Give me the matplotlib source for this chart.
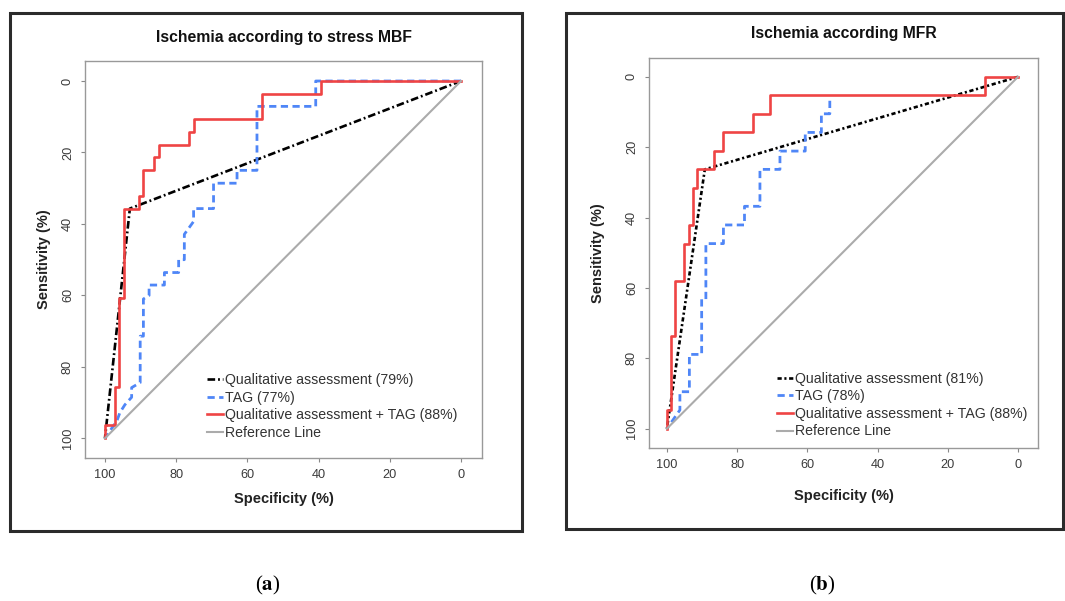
import numpy as np
import matplotlib
matplotlib.use("Agg")
import matplotlib.pyplot as plt
from matplotlib.patches import Rectangle

plt.rcParams['font.family'] = ['Liberation Sans', 'DejaVu Sans']
plt.rcParams['mathtext.fontset'] = 'stix'

# ---- data (specificity %, sensitivity %) ----
titles = ["Ischemia according to stress MBF", "Ischemia according MFR"]
captions = ["a", "b"]
ticks = [0, 20, 40, 60, 80, 100]

# panel a
qual_a_spec = [0, 93.0, 100]
qual_a_sens = [0, 35.7, 100]
tag_a_spec = [0, 40.8, 40.8, 57.3, 57.3, 62.9, 62.9, 69.5, 69.5, 75.1, 75.1, 77.7, 77.7,
              79.3, 79.3, 83.3, 83.3, 87.6, 87.6, 89.2, 89.2, 90.1, 90.1, 92.5, 92.5,
              94.4, 95.8, 96.6, 100]
tag_a_sens = [0, 0, 7.1, 7.1, 25.0, 25.0, 28.6, 28.6, 35.7, 35.7, 39.3, 42.9, 50.0,
              50.0, 53.6, 53.6, 57.1, 57.1, 60.0, 61.0, 71.4, 71.4, 84.4, 85.8, 88.5,
              90.6, 92.8, 95.0, 100]
comb_a_spec = [0, 39.4, 39.4, 55.9, 55.9, 75.1, 75.1, 76.5, 76.5, 84.7, 84.7, 86.1, 86.1,
               89.2, 89.2, 90.4, 90.4, 94.6, 94.6, 96.0, 96.0, 97.3, 97.3, 100, 100]
comb_a_sens = [0, 0, 3.6, 3.6, 10.7, 10.7, 14.3, 14.3, 17.9, 17.9, 21.4, 21.4, 25.0,
               25.0, 32.1, 32.1, 35.7, 35.7, 60.7, 60.7, 85.7, 85.7, 96.4, 96.4, 100]
labels_a = ["Qualitative assessment (79%)", "TAG (77%)",
            "Qualitative assessment + TAG (88%)", "Reference Line"]

# panel b
qual_b_spec = [0, 89.2, 100]
qual_b_sens = [0, 26.3, 100]
tag_b_spec = [53.6, 53.6, 56.0, 56.0, 60.6, 60.6, 67.8, 67.8, 73.5, 73.5, 77.9, 77.9,
              83.9, 83.9, 88.9, 88.9, 90.1, 90.1, 93.6, 93.6, 96.3, 96.3, 100]
tag_b_sens = [6.8, 10.5, 10.5, 15.8, 15.8, 21.1, 21.1, 26.3, 26.3, 36.8, 36.8, 42.1,
              42.1, 47.4, 47.4, 63.2, 63.2, 78.9, 78.9, 89.5, 89.5, 94.7, 100]
comb_b_spec = [0, 9.3, 9.3, 70.6, 70.6, 75.4, 75.4, 83.9, 83.9, 86.5, 86.5, 91.4, 91.4,
               92.5, 92.5, 93.7, 93.7, 95.2, 95.2, 97.6, 97.6, 98.8, 98.8, 100, 100]
comb_b_sens = [0, 0, 5.3, 5.3, 10.5, 10.5, 15.8, 15.8, 21.1, 21.1, 26.3, 26.3, 31.6,
               31.6, 42.1, 42.1, 47.4, 47.4, 57.9, 57.9, 73.7, 73.7, 94.7, 94.7, 100]
labels_b = ["Qualitative assessment (81%)", "TAG (78%)",
            "Qualitative assessment + TAG (88%)", "Reference Line"]

W, H = 1065, 601
fig = plt.figure(figsize=(W / 100, H / 100), dpi=100)


def px(x0, y0, x1, y1):
    # pixel box (top-left origin) -> figure fraction rect
    return [x0 / W, 1 - y1 / H, (x1 - x0) / W, (y1 - y0) / H]


red = '#ef4444'
blue = '#4f86f7'
grey = '#ababab'

panels = [
    dict(frame=(10, 13, 522, 531), box=(85, 61, 482, 458), xlim=(105.6, -5.9), ylim=(105.5, -5.6),
         qual=(qual_a_spec, qual_a_sens), tag=(tag_a_spec, tag_a_sens),
         comb=(comb_a_spec, comb_a_sens), labels=labels_a, qdash=(2.9, 1.1, 0.7, 1.1),
         leg=(0.307, 0.214), xpad=8, ypad=8, cap=(268, 585)),
    dict(frame=(566, 13, 1063, 529), box=(649, 57.5, 1038, 448), xlim=(105.1, -5.7), ylim=(105.5, -5.5),
         qual=(qual_b_spec, qual_b_sens), tag=(tag_b_spec, tag_b_sens),
         comb=(comb_b_spec, comb_b_sens), labels=labels_b, qdash=(1.6, 1.0, 0.8, 1.0),
         leg=(0.329, 0.195), xpad=13, ypad=15, cap=(822, 585)),
]

for i, p in enumerate(panels):
    fx0, fy0, fx1, fy1 = p['frame']
    fig.add_artist(Rectangle((fx0 / W, 1 - fy1 / H), (fx1 - fx0) / W, (fy1 - fy0) / H,
                             transform=fig.transFigure, fill=False, edgecolor='#2b2b2b', lw=2.2))

    ax = fig.add_axes(px(*p['box']))
    l1, = ax.plot(*p['qual'], color='black', lw=1.9, dashes=p['qdash'])
    l2, = ax.plot(*p['tag'], color=blue, lw=2.0, dashes=(2.6, 1.6))
    l3, = ax.plot(*p['comb'], color=red, lw=1.9)
    l4, = ax.plot([100, 0], [100, 0], color=grey, lw=1.5)

    ax.set_xlim(*p['xlim'])
    ax.set_ylim(*p['ylim'])
    ax.set_xticks(ticks)
    ax.set_yticks(ticks)
    ax.tick_params(colors='#888888', labelcolor='#3a3a3a', labelsize=9.2, length=3, width=0.8, pad=5)
    for lab in ax.get_yticklabels():
        lab.set_rotation(90)
        lab.set_va('center')
    for s in ax.spines.values():
        s.set_color('#999999')
        s.set_linewidth(1)

    ax.set_title(titles[i], fontsize=11.3, fontweight='bold', pad=14, color='#111111')
    ax.set_xlabel("Specificity (%)", fontsize=10.5, fontweight='bold', labelpad=p['xpad'], color='#222222')
    ax.set_ylabel("Sensitivity (%)", fontsize=10.5, fontweight='bold', labelpad=p['ypad'], color='#222222')

    ax.legend([l1, l2, l3, l4], p['labels'], frameon=False, fontsize=10.2, loc='upper left',
              bbox_to_anchor=p['leg'], borderpad=0, borderaxespad=0, handlelength=1.15,
              handletextpad=0.1, labelspacing=0.25, labelcolor='#333333')

    cx, cy = p['cap']
    fig.text(cx / W, 1 - cy / H, "(" + r"$\mathbf{" + captions[i] + "}$" + ")",
             ha='center', va='center', fontsize=15, family='Liberation Serif')

fig.savefig("out.png", dpi=100)
